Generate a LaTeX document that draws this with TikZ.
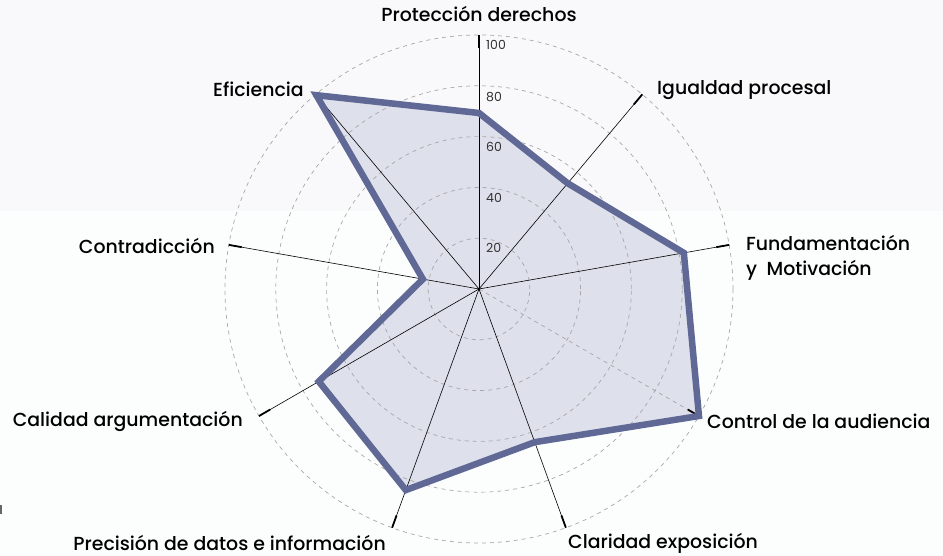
\documentclass[tikz,border=0pt]{standalone}
\usepackage{fontspec}
\setmainfont{Poppins}
\IfFontExistsTF{Poppins Medium}{\newfontfamily\labfont{Poppins Medium}\newcommand\labsize{18.9}}{%
  \IfFontExistsTF{Poppins-Medium.ttf}{\newfontfamily\labfont{Poppins-Medium.ttf}\newcommand\labsize{18.9}}{\newfontfamily\labfont{Poppins}\newcommand\labsize{19}}}
\definecolor{bgtop}{HTML}{F9F9FB}
\definecolor{bgbot}{HTML}{FCFEFE}
\definecolor{polyline}{HTML}{606896}
\definecolor{polyfill}{HTML}{DEE0EB}
\definecolor{gridc}{HTML}{A8A8A8}
\tikzset{
  gridline/.style={gridc, line width=0.7pt, dash pattern=on 4pt off 4pt},
  axisline/.style={black, line width=0.6pt},
  axistick/.style={black, line width=1.8pt},
  polyshape/.style={polyline, line width=6.5pt, line join=miter},
  catlabel/.style={font=\labfont\fontsize{\labsize}{25}\selectfont, inner sep=0pt, text=black},
  ticklabel/.style={font=\fontsize{12.5}{14}\selectfont, inner sep=0pt, text=black!80, anchor=west}
}
\begin{document}
\begin{tikzpicture}[x=1pt,y=1pt]
\fill[bgbot] (-479,-267) rectangle (464,289);
\fill[bgtop] (-479,78) rectangle (464,289);
\useasboundingbox (-479,-267) rectangle (464,289);
\fill[black!60] (-479,-216) rectangle (-477,-225);
\coordinate (c) at (0,0);
% axis ends
\foreach \a/\n in {90/pd,50/ip,10/fm,-30/ca,-70/ce,-110/pr,-150/cg,170/co,130/ef}{
  \coordinate (\n) at (\a:254);
  \coordinate (\n t) at (\a:241);
}
% data points
\coordinate (vpd) at (90:176);
\coordinate (vip) at (50:138);
\coordinate (vfm) at (10:208);
\coordinate (vca) at (-30:254);
\coordinate (vce) at (-70:163);
\coordinate (vpr) at (-110:214);
\coordinate (vcg) at (-150:185);
\coordinate (vco) at (170:57);
\coordinate (vef) at (130:253);
\fill[polyfill] (vpd) -- (vip) -- (vfm) -- (vca) -- (vce) -- (vpr) -- (vcg) -- (vco) -- (vef) -- cycle;
\foreach \r in {1,...,5}{\draw[gridline] (c) circle ({\r*50.8});}
\foreach \n in {pd,ip,fm,ce,pr,cg,co,ef}{\draw[axisline] (c) -- (\n);}
\draw[gridline] (c) -- (ca);
\foreach \n in {pd,ip,fm,ca,ce,pr,cg,co,ef}{\draw[axistick] (\n t) -- (\n);}
\fill (c) circle (1.3pt);
\draw[polyshape] (vpd) -- (vip) -- (vfm) -- (vca) -- (vce) -- (vpr) -- (vcg) -- (vco) -- (vef) -- cycle;
% tick labels
\node[ticklabel] (t100) at (7,244) {100};
\node[ticklabel] (t80) at (7,192) {80};
\node[ticklabel] (t60) at (7,142) {60};
\node[ticklabel] (t40) at (7,91) {40};
\node[ticklabel] (t20) at (7,41) {20};
% category labels
\node[catlabel] (lpd) at (0,275) {Protección derechos};
\node[catlabel, anchor=west] (lip) at (178,199) {Igualdad procesal};
\node[catlabel, anchor=east] (lef) at (-175,200) {Eficiencia};
\node[catlabel, anchor=west, align=left] (lfm) at (267,31) {Fundamentación\\y\enspace Motivación};
\node[catlabel, anchor=west] (lca) at (228,-132) {Control de la audiencia};
\node[catlabel, anchor=west] (lce) at (89,-254) {Claridad exposición};
\node[catlabel, anchor=east] (lpr) at (-93,-254) {Precisión de datos e información};
\node[catlabel, anchor=east] (lcg) at (-236,-132) {Calidad argumentación};
\node[catlabel, anchor=east] (lco) at (-264,43) {Contradicción};
\end{tikzpicture}
\end{document}
